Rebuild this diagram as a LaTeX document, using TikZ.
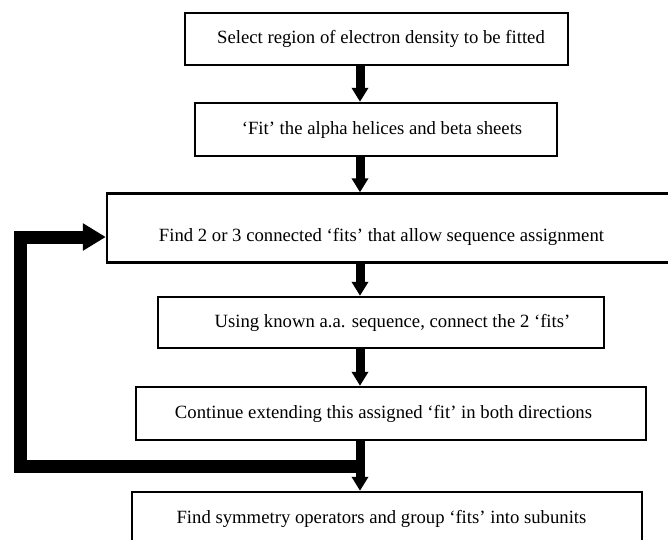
\documentclass[tikz,border=0pt]{standalone}
\usepackage{fontspec}
\setmainfont{Liberation Serif}
\usetikzlibrary{arrows.meta}

\begin{document}
\begin{tikzpicture}[
    x=1pt, y=-1pt,
    box/.style={draw, line width=2.4pt, inner sep=0pt},
    every label/.style={font=\fontsize{18.7}{22}\selectfont, inner sep=0pt},
    arrow/.style={-{Triangle[length=14pt, width=16pt]}, line width=9pt},
    loopback/.style={-{Triangle[length=23pt, width=26pt]}, line width=13pt}
]
\useasboundingbox (0,0) rectangle (668,539);

\node[box, minimum width=383pt, minimum height=52pt,
      label={[xshift=4.5pt]center:{Select region of electron density to be fitted}}]
    (select) at (376.5,39) {};
\node[box, minimum width=362pt, minimum height=53pt,
      label={[xshift=6pt]center:{‘Fit’ the alpha helices and beta sheets}}]
    (fit) at (376,129.5) {};
\node[box, minimum width=583pt, minimum height=69pt,
      label={[xshift=-17pt, yshift=-9pt]center:{Find 2 or 3 connected ‘fits’ that allow sequence assignment}}]
    (find) at (398.5,228) {};
\node[box, minimum width=446pt, minimum height=51pt,
      label={[xshift=11.5pt]center:{Using known a.a. sequence, connect the 2 ‘fits’}}]
    (using) at (381,322.5) {};
\node[box, minimum width=510pt, minimum height=53pt,
      label={[xshift=-7.5pt]center:{Continue extending this assigned ‘fit’ in both directions}}]
    (extend) at (391,413.5) {};
\node[box, minimum width=510pt, minimum height=54pt,
      label={[xshift=-5.5pt]center:{Find symmetry operators and group ‘fits’ into subunits}}]
    (symm) at (387,519) {};

% main flow
\coordinate (spine) at (360,0);
\draw[arrow] (select.south -| spine) -- (fit.north -| spine);
\draw[arrow] (fit.south -| spine) -- (find.north -| spine);
\draw[arrow] (find.south -| spine) -- (using.north -| spine);
\draw[arrow] (using.south -| spine) -- (extend.north -| spine);
\draw[arrow] (extend.south -| spine) -- (symm.north -| spine);

% feedback loop
\coordinate (branch) at (360,466);
\coordinate (corner) at (20,466);
\draw[loopback] (branch) -- (corner) |- ([yshift=-9pt]find.west);

\end{tikzpicture}
\end{document}
